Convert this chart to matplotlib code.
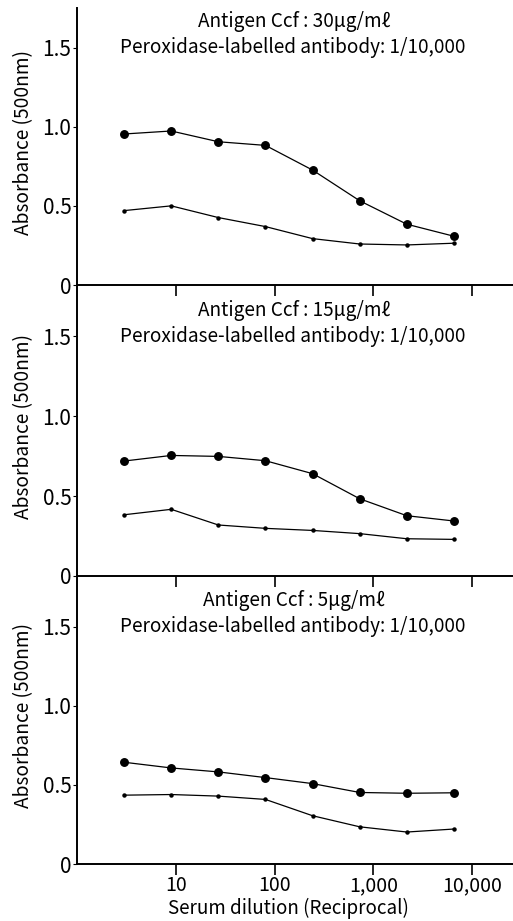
import matplotlib
matplotlib.use("Agg")
import matplotlib.pyplot as plt

plt.rcParams['font.family'] = ['Noto Sans CJK JP', 'DejaVu Sans']

# serum dilution (reciprocal), 3-fold steps
dilution = [3, 9, 27, 81, 243, 729, 2187, 6561]

# antigen concentrations (ug/ml) for the three panels
antigen = ['30', '15', '5']

# absorbance at 500 nm, large dots and small dots
absBig = [
    [0.954, 0.973, 0.905, 0.882, 0.726, 0.532, 0.384, 0.308],
    [0.719, 0.754, 0.748, 0.721, 0.640, 0.483, 0.377, 0.344],
    [0.643, 0.607, 0.582, 0.546, 0.508, 0.452, 0.447, 0.450],
]
absSmall = [
    [0.470, 0.500, 0.426, 0.369, 0.293, 0.259, 0.253, 0.264],
    [0.383, 0.417, 0.319, 0.298, 0.285, 0.265, 0.233, 0.229],
    [0.435, 0.439, 0.429, 0.408, 0.305, 0.235, 0.202, 0.221],
]

yticks = [0, 0.5, 1.0, 1.5]
yticklabels = ['0', '0.5', '1.0', '1.5']
xticks = [10, 100, 1000, 10000]
xticklabels = ['10', '100', '1,000', '10,000']

W, H = 513, 921
fig = plt.figure(figsize=(W / 100, H / 100), dpi=100)

# panel boxes in pixels: (top, bottom, ymax, title offset)
panels = [(8, 285, 1.75, 14), (285, 576, 1.82, 25), (576, 864, 1.82, 24)]
left = 77
aw = W - left

for k, (top, bot, ymax, toff) in enumerate(panels):
    ah = bot - top
    ax = fig.add_axes([left / W, (H - bot) / H, aw / W, ah / H])
    ax.set_facecolor('none')
    ax.plot(dilution, absBig[k], '-', color='black', lw=0.9,
            marker='o', markersize=5.4)
    ax.plot(dilution, absSmall[k], '-', color='black', lw=0.9,
            marker='o', markersize=2.2)
    ax.set_xscale('log')
    ax.set_xlim(1.0, 26000)
    ax.set_ylim(0, ymax)
    ax.spines['top'].set_visible(False)
    ax.spines['right'].set_visible(False)
    ax.spines['left'].set_linewidth(1.4)
    ax.spines['bottom'].set_linewidth(1.4)
    ax.set_yticks(yticks)
    ax.set_yticklabels(yticklabels, fontsize=15)
    ax.tick_params(axis='y', length=3, width=0.8, pad=1)
    ax.set_xticks(xticks)
    ax.xaxis.set_minor_locator(matplotlib.ticker.NullLocator())
    ax.tick_params(axis='x', length=8, width=1.2, direction='out', pad=0)
    if k == 2:
        ax.set_xticklabels(xticklabels, fontsize=14)
        ax.set_xlabel('Serum dilution (Reciprocal)', fontsize=13.5,
                      labelpad=0, va='bottom')
        ax.xaxis.set_label_coords((288 - left) / aw, -55 / ah)
    else:
        ax.set_xticklabels([])
    ax.set_ylabel('Absorbance (500nm)', fontsize=13.8)
    ax.yaxis.set_label_coords(-(left - 34) / aw, 0.515)
    ax.text((294 - left) / aw, 1 - toff / ah,
            'Antigen Ccf : ' + antigen[k] + 'μg/mℓ', transform=ax.transAxes,
            ha='center', va='center', fontsize=13.7)
    ax.text((293 - left) / aw, 1 - (toff + 26) / ah,
            'Peroxidase-labelled antibody: 1/10,000', transform=ax.transAxes,
            ha='center', va='center', fontsize=13.7)

fig.savefig('out.png', dpi=100)
